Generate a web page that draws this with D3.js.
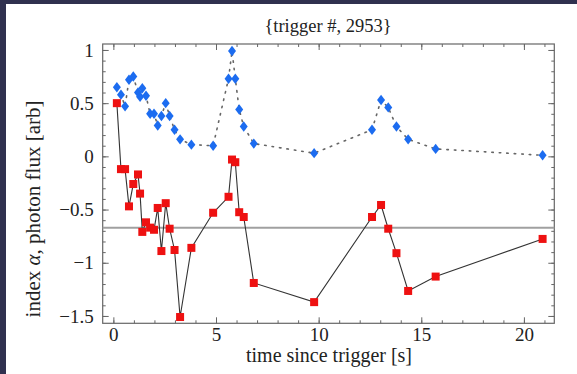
<!DOCTYPE html>
<html>
<head>
<meta charset="utf-8">
<script src="https://cdn.jsdelivr.net/npm/d3@7"></script>
<style>
body{margin:0;background:#30314f;}
text{font-family:"Liberation Serif","DejaVu Serif",serif;fill:#222;}
</style>
</head>
<body>
<svg id="chart" width="577" height="374"></svg>
<script>
// time since trigger [s], shared by both series
var timeS = [0.17, 0.37, 0.57, 0.76, 0.97, 1.20, 1.30, 1.41, 1.59, 1.79, 1.98, 2.16, 2.34, 2.55, 2.74, 2.98, 3.25, 3.80, 4.86,
	5.61, 5.78, 5.94, 6.13, 6.35, 6.84, 9.78, 12.60, 13.04, 13.39, 13.79, 14.36, 15.70, 20.91];
// photon flux [arb] (blue diamonds, dotted)
var photonFlux = [0.65, 0.58, 0.47, 0.72, 0.75, 0.60, 0.56, 0.64, 0.57, 0.40, 0.40, 0.29, 0.38, 0.50, 0.38, 0.25, 0.16, 0.11, 0.10,
	0.73, 0.99, 0.73, 0.44, 0.28, 0.12, 0.03, 0.25, 0.53, 0.46, 0.28, 0.16, 0.07, 0.01];
// spectral index alpha (red squares, solid)
var indexAlpha = [0.50, -0.12, -0.12, -0.47, -0.26, -0.17, -0.35, -0.71, -0.62, -0.67, -0.69, -0.485, -0.89, -0.44, -0.68, -0.88, -1.51, -0.86, -0.53,
	-0.38, -0.03, -0.055, -0.525, -0.57, -1.19, -1.37, -0.57, -0.457, -0.68, -0.91, -1.265, -1.13, -0.776];
var refLevel = -0.67;
var xTicks = [0, 5, 10, 15, 20];
var yTicks = [-1.5, -1, -0.5, 0, 0.5, 1];
var xMinor = d3.range(0, 22, 1);
var yMinor = d3.range(-1.5, 1.05, 0.1);

var svg = d3.select("#chart");
svg.append("rect").attr("x", 6).attr("y", 4).attr("width", 571).attr("height", 370).style("fill", "#fff");

var pLeft = 102.7, pRight = 554.3, pTop = 44, pBottom = 323.3;
var serif = "'Liberation Serif', 'DejaVu Serif', serif";
var xScale = d3.scaleLinear().domain([-0.52, 21.48]).range([pLeft, pRight]);
var yScale = d3.scaleLinear().domain([-1.569, 1.056]).range([pBottom, pTop]);

function fmt(v){ return (v < 0 ? "\u2212" : "") + Math.abs(v); }

// minor ticks, all four sides, inward
svg.append("g").attr("transform", "translate(0," + pBottom + ")")
	.call(d3.axisBottom(xScale).tickValues(xMinor).tickSize(-3).tickFormat(""));
svg.append("g").attr("transform", "translate(0," + pTop + ")")
	.call(d3.axisTop(xScale).tickValues(xMinor).tickSize(-3).tickFormat(""));
svg.append("g").attr("transform", "translate(" + pLeft + ",0)")
	.call(d3.axisLeft(yScale).tickValues(yMinor).tickSize(-3).tickFormat(""));
svg.append("g").attr("transform", "translate(" + pRight + ",0)")
	.call(d3.axisRight(yScale).tickValues(yMinor).tickSize(-3).tickFormat(""));

// major ticks with labels
var gx = svg.append("g").attr("transform", "translate(0," + pBottom + ")")
	.call(d3.axisBottom(xScale).tickValues(xTicks).tickSize(-6).tickPadding(4).tickFormat(fmt));
svg.append("g").attr("transform", "translate(0," + pTop + ")")
	.call(d3.axisTop(xScale).tickValues(xTicks).tickSize(-6).tickFormat(""));
var gy = svg.append("g").attr("transform", "translate(" + pLeft + ",0)")
	.call(d3.axisLeft(yScale).tickValues(yTicks).tickSize(-6).tickPadding(9).tickFormat(fmt));
svg.append("g").attr("transform", "translate(" + pRight + ",0)")
	.call(d3.axisRight(yScale).tickValues(yTicks).tickSize(-6).tickFormat(""));

svg.selectAll(".domain").remove();
svg.selectAll(".tick line").style("stroke", "#666").style("stroke-width", 1);
gx.attr("font-family", serif).attr("font-size", 19);
gy.attr("font-family", serif).attr("font-size", 19);
gx.selectAll("text").style("fill", "#222");
gy.selectAll("text").style("fill", "#222");

svg.append("rect").attr("x", pLeft).attr("y", pTop).attr("width", pRight - pLeft).attr("height", pBottom - pTop)
	.style("fill", "none").style("stroke", "#666").style("stroke-width", 1.2);

// reference level
svg.append("line")
	.attr("x1", pLeft).attr("x2", pRight)
	.attr("y1", yScale(refLevel)).attr("y2", yScale(refLevel))
	.style("stroke", "#a0a0a0").style("stroke-width", 2);

var fluxData = timeS.map(function(t, i){ return {t: t, v: photonFlux[i]}; });
var alphaData = timeS.map(function(t, i){ return {t: t, v: indexAlpha[i]}; });

var line = d3.line()
	.x(function(d){ return xScale(d.t); })
	.y(function(d){ return yScale(d.v); });

svg.append("path").datum(fluxData).attr("d", line)
	.style("fill", "none").style("stroke", "#666").style("stroke-width", 1.6)
	.style("stroke-dasharray", "1.5,6").style("stroke-linecap", "round");

svg.append("path").datum(alphaData).attr("d", line)
	.style("fill", "none").style("stroke", "#333").style("stroke-width", 1.1);

svg.append("g").selectAll("path").data(fluxData).enter().append("path")
	.attr("d", "M0,-5.2L4,0L0,5.2L-4,0Z")
	.attr("transform", function(d){ return "translate(" + xScale(d.t) + "," + yScale(d.v) + ")"; })
	.style("fill", "#1c6cf0");

svg.append("g").selectAll("rect").data(alphaData).enter().append("rect")
	.attr("x", function(d){ return xScale(d.t) - 4; })
	.attr("y", function(d){ return yScale(d.v) - 4; })
	.attr("width", 8).attr("height", 8)
	.style("fill", "#ee1111");

// titles
svg.append("text").attr("x", 328).attr("y", 32).attr("text-anchor", "middle")
	.style("font-family", serif).style("font-size", "18.5px").text("{trigger #, 2953}");
svg.append("text").attr("x", 329).attr("y", 362).attr("text-anchor", "middle")
	.style("font-family", serif).style("font-size", "20px").text("time since trigger [s]");
var yt = svg.append("text").attr("text-anchor", "middle")
	.attr("transform", "translate(40,209)rotate(-90)")
	.style("font-family", serif).style("font-size", "21px");
yt.append("tspan").text("index ");
yt.append("tspan").style("font-style", "italic").text("\u03b1");
yt.append("tspan").text(", photon flux [arb]");
</script>
</body>
</html>
